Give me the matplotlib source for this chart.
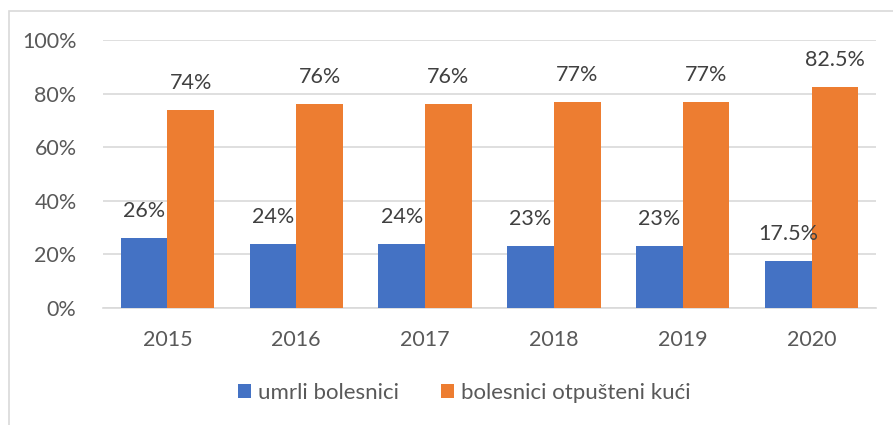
import numpy as np
import matplotlib.pyplot as plt
from matplotlib.patches import Rectangle
from matplotlib.ticker import FuncFormatter

years = ["2015", "2016", "2017", "2018", "2019", "2020"]
umrli = [26, 24, 24, 23, 23, 17.5]
otpusteni = [74, 76, 76, 77, 77, 82.5]
umrli_lbl = ["26%", "24%", "24%", "23%", "23%", "17.5%"]
otpusteni_lbl = ["74%", "76%", "76%", "77%", "77%", "82.5%"]

plt.rcParams['font.family'] = ['Lato', 'DejaVu Sans']
txt = "#595959"

fig = plt.figure(figsize=(8.93, 4.25), dpi=100)
# chart frame, Excel style
fig.patches.append(Rectangle((9/893, -0.05), 1.0, 1 - 11/425 + 0.05, transform=fig.transFigure,
                             fill=False, edgecolor="#D9D9D9", linewidth=1.2))
ax = fig.add_axes([103/893, 1 - 308/425, (876-103)/893, (308-40)/425])

x = np.arange(len(years))
w = 0.362
ax.bar(x - w/2, umrli, w, color="#4472C4", label="umrli bolesnici", zorder=3)
ax.bar(x + w/2, otpusteni, w, color="#ED7D31", label="bolesnici otpušteni kući", zorder=3)

for i in range(len(years)):
    ax.text(x[i] - w/2, umrli[i] + 6.3, umrli_lbl[i], ha="center", va="bottom", fontsize=15.5, color="#404040")
    ax.text(x[i] + w/2, otpusteni[i] + 6.3, otpusteni_lbl[i], ha="center", va="bottom", fontsize=15.5, color="#404040")

ax.set_xlim(-0.5, len(years) - 0.5)
ax.set_ylim(0, 100)
ax.set_yticks(range(0, 101, 20))
ax.yaxis.set_major_formatter(FuncFormatter(lambda v, p: f"{int(v)}%"))
ax.set_xticks(x)
ax.set_xticklabels(years)
ax.tick_params(axis="both", length=0, labelsize=15.5, colors=txt)
ax.tick_params(axis="x", pad=16)
ax.tick_params(axis="y", pad=19)
ax.grid(axis="y", color="#D9D9D9", linewidth=1.2, zorder=0)
for s in ["top", "right", "left"]:
    ax.spines[s].set_visible(False)
ax.spines["bottom"].set_color("#D9D9D9")
ax.spines["bottom"].set_linewidth(1.2)

leg = fig.legend(loc="center", bbox_to_anchor=(0.52, 1 - 393/425), ncol=2, frameon=False,
                 fontsize=16, handlelength=0.6, handleheight=0.6, handletextpad=0.3, columnspacing=1.9)
for t in leg.get_texts():
    t.set_color(txt)

fig.savefig("out.png", dpi=100)
